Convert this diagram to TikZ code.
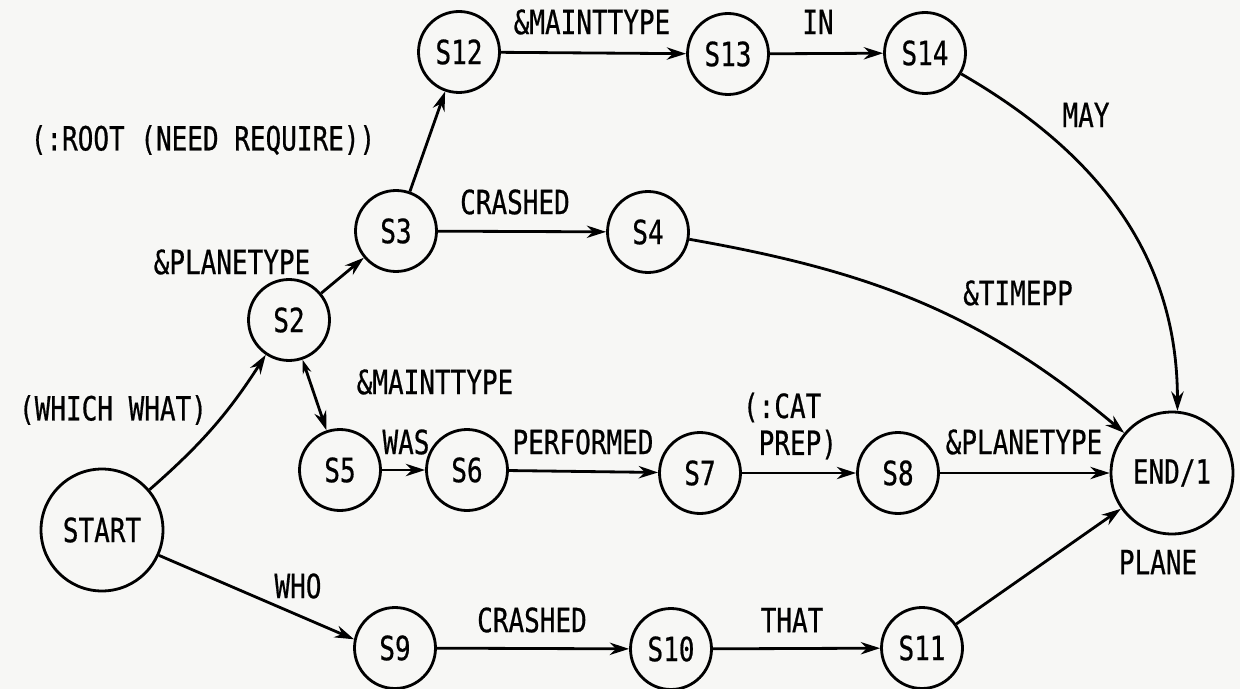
\documentclass[tikz,border=0pt]{standalone}
\usepackage{fontspec}
\newfontfamily\tyf{DejaVu Sans Mono}[FakeBold=0.7]
\usetikzlibrary{arrows.meta}
\definecolor{paper}{RGB}{247,247,245}
\newcommand{\tx}[1]{\scalebox{1}[1.28]{#1}}
\tikzset{
  state/.style={draw, circle, line width=1.6pt, minimum size=1.62cm, inner sep=0pt, font=\tyf\fontsize{14.8}{16}\selectfont},
  bigstate/.style={state, minimum size=2.44cm},
  lbl/.style={inner sep=0pt, font=\tyf\fontsize{14.8}{21}\selectfont, align=center},
  edge/.style={line width=1.6pt, -{Stealth[length=11pt,width=7pt]}},
}
\begin{document}
\begin{tikzpicture}[x=0.02cm, y=-0.02cm]
\fill[paper] (0,0) rectangle (1240,689);
\useasboundingbox (0,0) rectangle (1240,689);
% states
\node[bigstate] (start) at (102,530) {\tx{START}};
\node[state] (s2) at (289,320) {\tx{S2}};
\node[state] (s3) at (396,231) {\tx{S3}};
\node[state] (s4) at (648,232) {\tx{S4}};
\node[state] (s12) at (459,52) {\tx{S12}};
\node[state] (s13) at (728,54) {\tx{S13}};
\node[state] (s14) at (925,53) {\tx{S14}};
\node[state] (s5) at (340,470) {\tx{S5}};
\node[state] (s6) at (467,470) {\tx{S6}};
\node[state] (s7) at (700,473) {\tx{S7}};
\node[state] (s8) at (898,473) {\tx{S8}};
\node[bigstate] (end) at (1172,473) {\tx{END/1}};
\node[state] (s9) at (395,648) {\tx{S9}};
\node[state] (s10) at (671,649) {\tx{S10}};
\node[state] (s11) at (922,648) {\tx{S11}};
% edges
\draw[edge] (start) to[bend right=8] (s2);
\draw[edge] (start.-24) -- (s9.168);
\draw[edge] (s2) -- (s3);
\draw[edge] (s3) -- (s12);
\draw[edge] (s12) -- (s13);
\draw[edge] (s13) -- (s14);
\draw[edge] (s3) -- (s4);
\draw[edge] (s14) to[out=-30, in=90] (end.85);
\draw[edge] (s4) to[out=-10, in=140] (end);
\draw[line width=1.6pt, {Stealth[length=8pt,width=5pt]}-{Stealth[length=11pt,width=7pt]}] (s2) -- (s5);
\draw[edge] (s5) -- (s6);
\draw[edge] (s6) -- (s7);
\draw[edge] (s7) -- (s8);
\draw[edge] (s8) -- (end);
\draw[edge] (s9) -- (s10);
\draw[edge] (s10) -- (s11);
\draw[edge] (s11) -- (end);
% labels
\node[lbl] (l1) at (592,22) {\tx{\&MAINTTYPE}};
\node[lbl] (l2) at (818,22) {\tx{IN}};
\node[lbl] (l3) at (1086,115) {\tx{MAY}};
\node[lbl] (l4) at (203,140) {\tx{(:ROOT (NEED REQUIRE))}};
\node[lbl] (l5) at (515,202) {\tx{CRASHED}};
\node[lbl] (l6) at (232,262) {\tx{\&PLANETYPE}};
\node[lbl] (l7) at (1018,293) {\tx{\&TIMEPP}};
\node[lbl] (l8) at (435,382) {\tx{\&MAINTTYPE}};
\node[lbl] (l9) at (113,410) {\tx{(WHICH WHAT)}};
\node[lbl] (l10) at (406,442) {\tx{WAS}};
\node[lbl] (l11) at (583,442) {\tx{PERFORMED}};
\node[lbl, align=left] (l12) at (790,426) {\tx{(:CAT}\\\tx{\phantom{(}PREP)}};
\node[lbl] (l13) at (1024,442) {\tx{\&PLANETYPE}};
\node[lbl] (l14) at (1158,562) {\tx{PLANE}};
\node[lbl] (l15) at (298,586) {\tx{WHO}};
\node[lbl] (l16) at (532,620) {\tx{CRASHED}};
\node[lbl] (l17) at (792,620) {\tx{THAT}};
\end{tikzpicture}
\end{document}
